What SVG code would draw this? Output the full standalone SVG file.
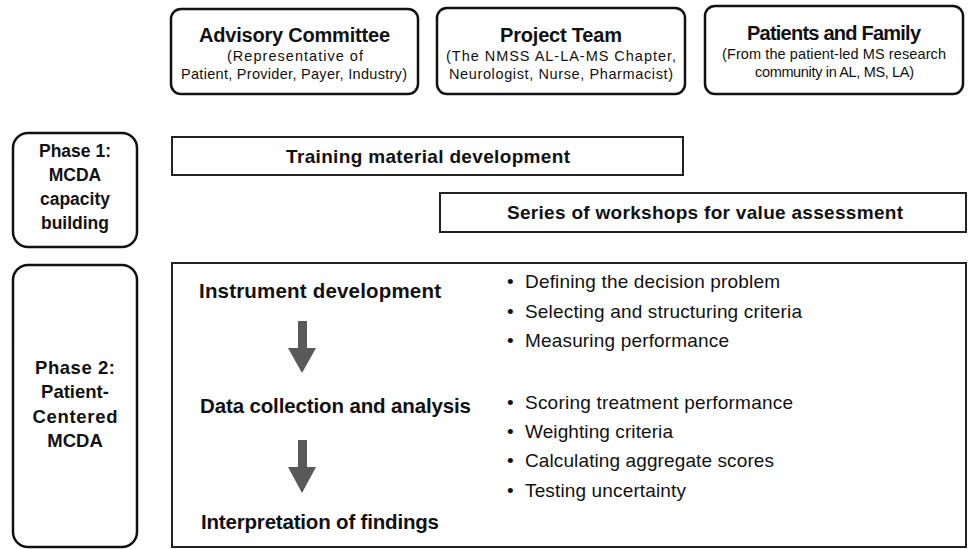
<svg xmlns="http://www.w3.org/2000/svg" width="968" height="549" viewBox="0 0 968 549">
  <style>
    .box { fill: #fff; stroke: #111; stroke-width: 2.5; }
    .bar { fill: #fff; stroke: #222; stroke-width: 2; }
    .t { font-family: "Liberation Sans", Arial, sans-serif; fill: #111; }
    .title { font-size: 20px; font-weight: bold; text-anchor: middle; }
    .sub { font-size: 14.5px; text-anchor: middle; }
    .phase { font-size: 17.5px; font-weight: bold; text-anchor: middle; }
    .phase2 { font-size: 18.5px; font-weight: bold; text-anchor: middle; }
    .bartext { font-size: 19px; font-weight: bold; text-anchor: middle; }
    .step { font-size: 20.5px; font-weight: bold; }
    .item { font-size: 19px; }
    .arrow { fill: #595959; }
  </style>

  <!-- stakeholder boxes -->
  <g id="advisory-committee">
    <rect class="box" x="171" y="9" width="247" height="85" rx="10"/>
    <text class="t title" x="294.5" y="42" textLength="191">Advisory Committee</text>
    <text class="t sub" x="295" y="61" textLength="136">(Representative of</text>
    <text class="t sub" x="294" y="79" textLength="226">Patient, Provider, Payer, Industry)</text>
  </g>
  <g id="project-team">
    <rect class="box" x="437" y="8" width="248" height="86" rx="10"/>
    <text class="t title" x="561" y="42" textLength="122">Project Team</text>
    <text class="t sub" x="561" y="61" textLength="230">(The NMSS AL-LA-MS Chapter,</text>
    <text class="t sub" x="561" y="79" textLength="224">Neurologist, Nurse, Pharmacist)</text>
  </g>
  <g id="patients-family">
    <rect class="box" x="705" y="6" width="258" height="88" rx="10"/>
    <text class="t title" x="834" y="40" textLength="174">Patients and Family</text>
    <text class="t sub" x="834" y="59" textLength="224">(From the patient-led MS research</text>
    <text class="t sub" x="834.5" y="77" textLength="159">community in AL, MS, LA)</text>
  </g>

  <!-- phase 1 -->
  <g id="phase1">
    <rect class="box" x="13" y="133" width="124" height="114" rx="15"/>
    <text class="t phase" x="75" y="157">Phase 1:</text>
    <text class="t phase" x="75" y="181">MCDA</text>
    <text class="t phase" x="75" y="205">capacity</text>
    <text class="t phase" x="75" y="229">building</text>
  </g>
  <g id="training-material">
    <rect class="bar" x="172" y="137" width="511" height="38"/>
    <text class="t bartext" x="428" y="163" textLength="284">Training material development</text>
  </g>
  <g id="workshops">
    <rect class="bar" x="440" y="193" width="526" height="39"/>
    <text class="t bartext" x="705" y="219" textLength="396">Series of workshops for value assessment</text>
  </g>

  <!-- phase 2 -->
  <g id="phase2">
    <rect class="box" x="13" y="265" width="124" height="282" rx="15"/>
    <text class="t phase2" x="75" y="374" textLength="80">Phase 2:</text>
    <text class="t phase2" x="75" y="398">Patient-</text>
    <text class="t phase2" x="75" y="423" textLength="85">Centered</text>
    <text class="t phase2" x="75" y="447">MCDA</text>
  </g>
  <g id="mcda-process">
    <rect class="bar" x="172" y="263" width="794" height="284"/>
    <text class="t step" x="199" y="298" textLength="242">Instrument development</text>
    <text class="t step" x="200" y="413" textLength="271">Data collection and analysis</text>
    <text class="t step" x="201" y="529" textLength="238">Interpretation of findings</text>
    <g class="t item">
      <text x="507" y="288">•</text><text x="525" y="288" textLength="255">Defining the decision problem</text>
      <text x="507" y="318">•</text><text x="525" y="318" textLength="277">Selecting and structuring criteria</text>
      <text x="507" y="347">•</text><text x="525" y="347" textLength="204">Measuring performance</text>
      <text x="507" y="409">•</text><text x="525" y="409" textLength="268">Scoring treatment performance</text>
      <text x="507" y="438">•</text><text x="525" y="438" textLength="148">Weighting criteria</text>
      <text x="507" y="467">•</text><text x="525" y="467" textLength="249">Calculating aggregate scores</text>
      <text x="507" y="497">•</text><text x="525" y="497" textLength="161">Testing uncertainty</text>
    </g>
  </g>

  <!-- step arrows -->
  <g id="connectors">
    <path class="arrow" d="M298 321 H307 V348 H316 L302 373 L288 348 H298 Z"/>
    <path class="arrow" d="M298 440 H307 V467 H316 L302 493 L288 467 H298 Z"/>
  </g>
</svg>
